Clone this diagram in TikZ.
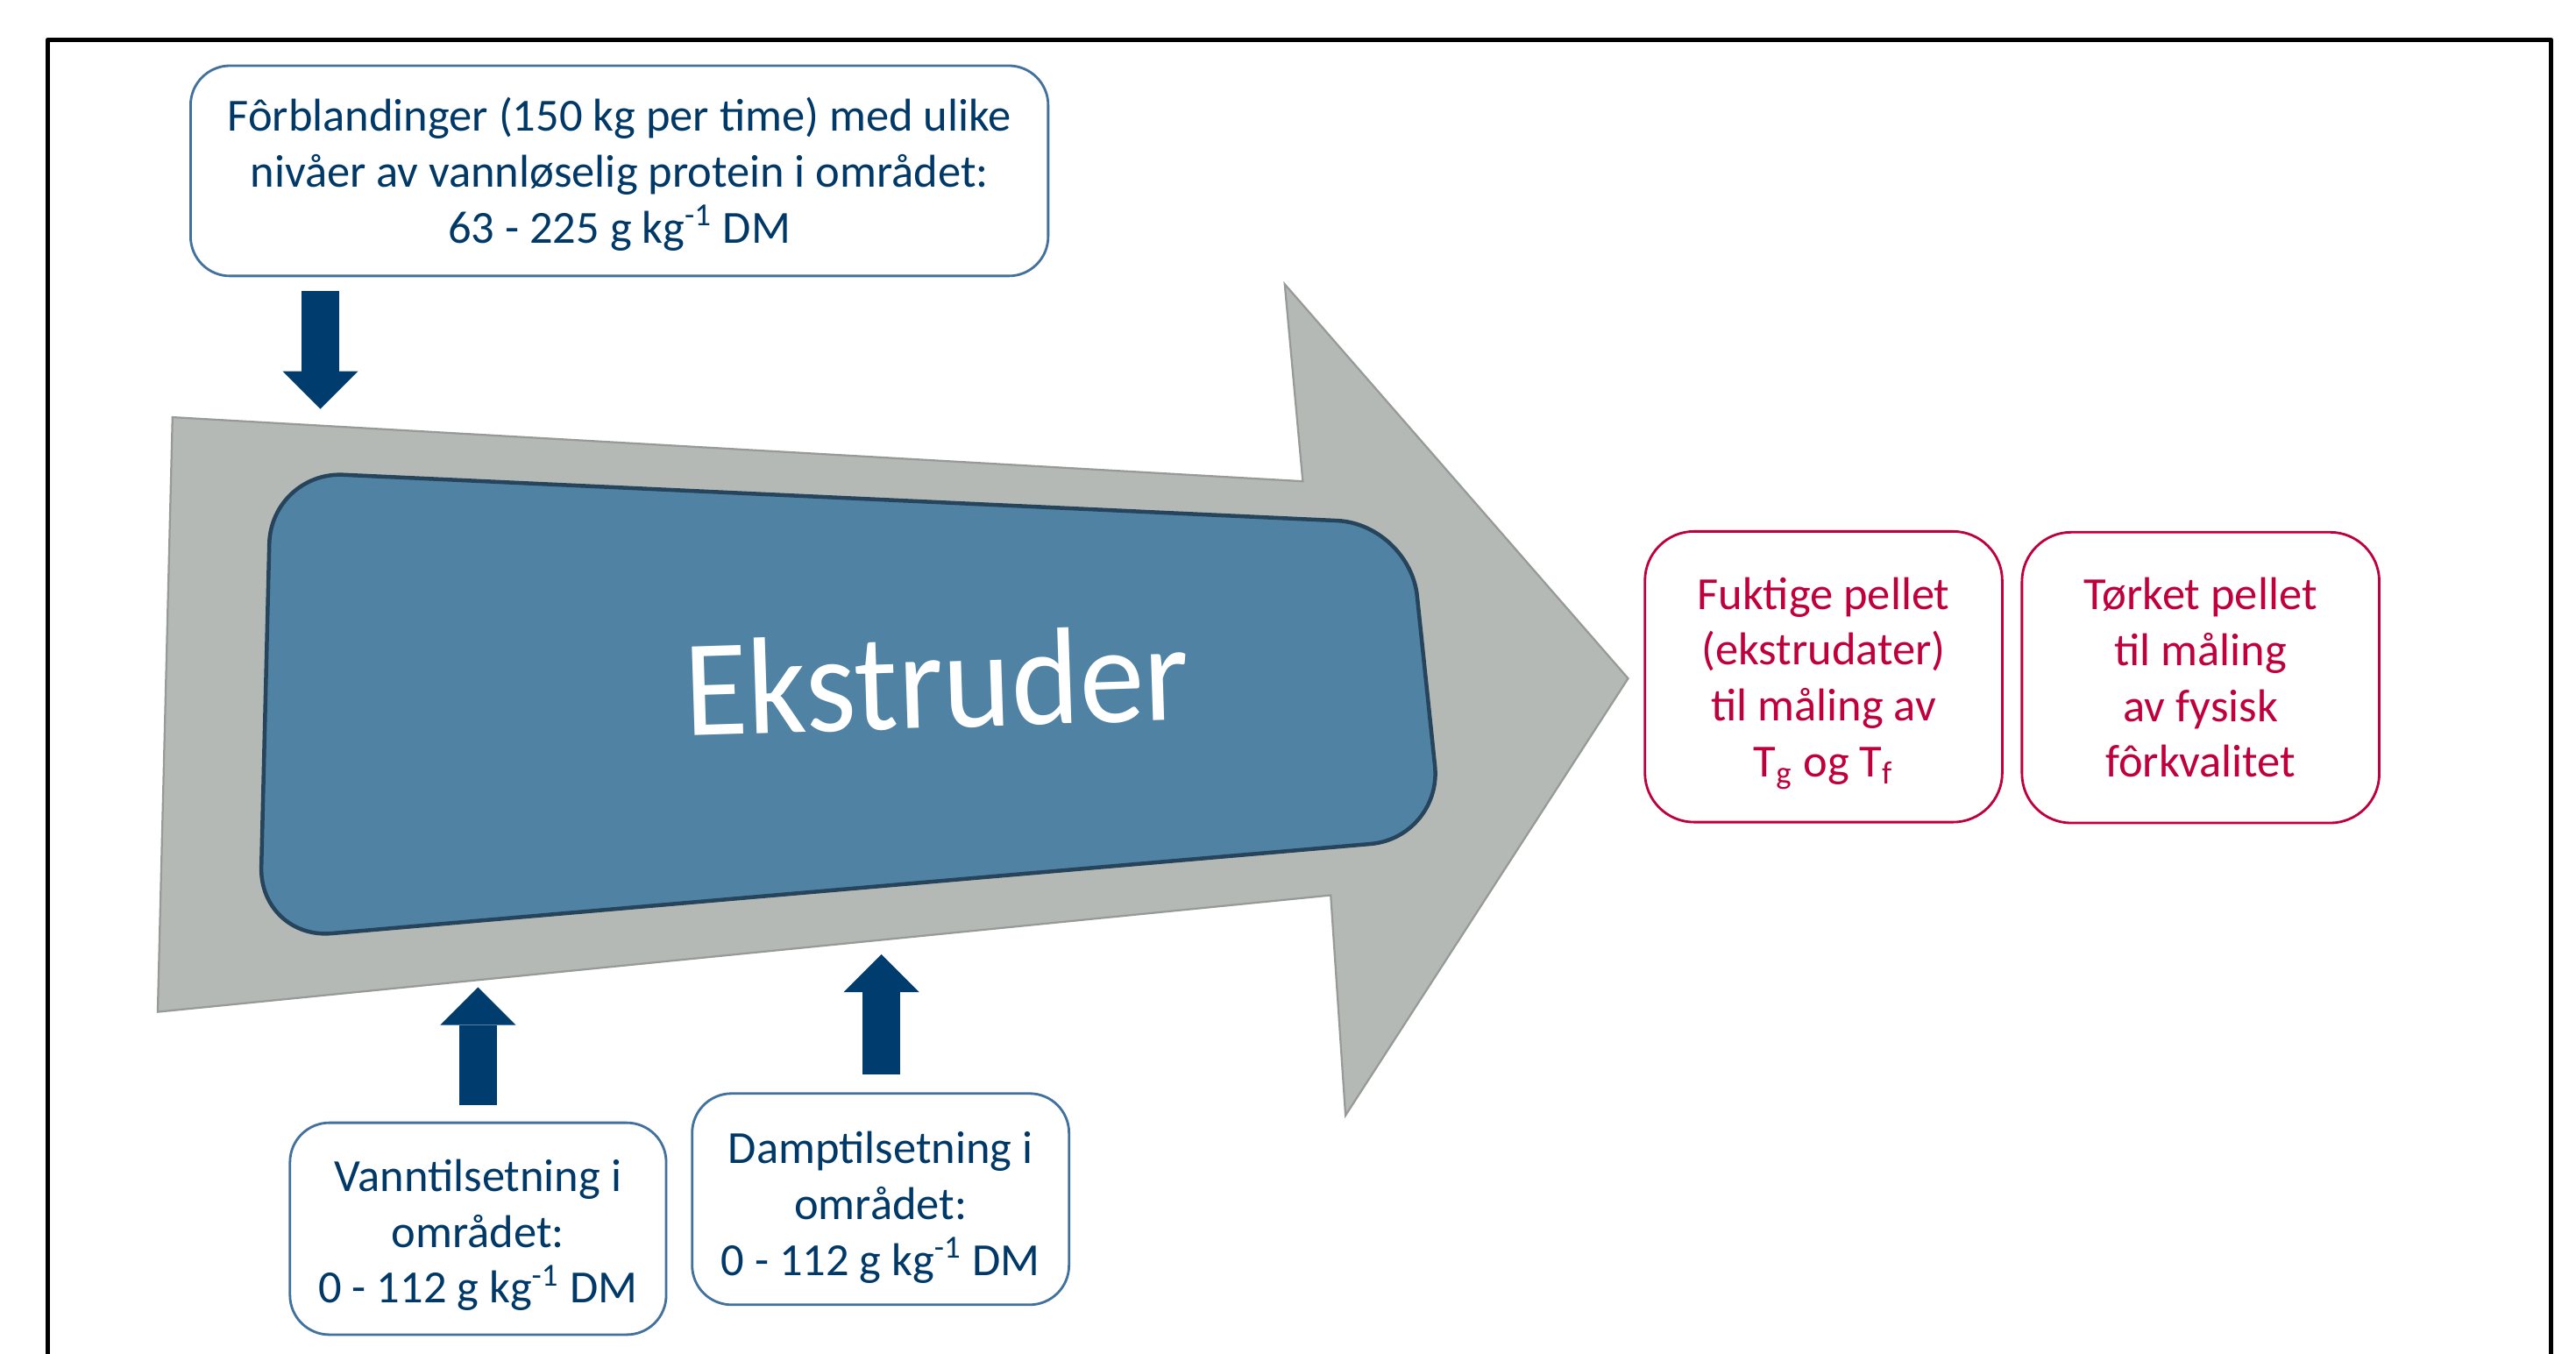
\documentclass[tikz,border=0pt]{standalone}
\usepackage{fontspec}
\setmainfont{Carlito}
\usetikzlibrary{arrows.meta}
\definecolor{arrowgray}{RGB}{181,185,182}
\definecolor{edgegray}{RGB}{150,155,152}
\definecolor{mainblue}{RGB}{80,130,164}
\definecolor{darkblue}{RGB}{38,68,92}
\definecolor{glowblue}{RGB}{112,182,232}
\definecolor{navy}{RGB}{0,60,110}
\definecolor{navytext}{RGB}{0,56,104}
\definecolor{boxblue}{RGB}{65,113,156}
\definecolor{crimson}{RGB}{192,0,60}
\begin{document}
\begin{tikzpicture}[x=0.5pt,y=-0.5pt,
  bluebox/.style={draw=boxblue, line width=0.75pt, rounded corners=12pt, fill=white, inner sep=0pt},
  bluetext/.style={text=navytext, align=center, font=\fontsize{14}{17}\selectfont, inner sep=0pt},
  redbox/.style={draw=crimson, line width=0.75pt, rounded corners=15pt, fill=white, inner sep=0pt,
    minimum width=108.75pt, minimum height=88.5pt},
  redtext/.style={text=crimson, align=center, font=\fontsize{14}{17}\selectfont, inner sep=0pt},
  blockarrow/.style={draw=navy, line width=11.3pt,
    -{Triangle[length=11.5pt,width=23pt,line width=0pt]}},
  exttext/.style={text=white, font=\fontsize{42}{42}\selectfont, anchor=base,
    inner sep=0pt, rotate=1.8, xscale=0.94}
]
\clip (0,0) rectangle (1568,824);
\fill[white] (0,0) rectangle (1568,824);

% frame
\draw[line width=1.5pt, line join=round] (29,840) -- (29,24.3) -- (1552.8,24.3) -- (1552.8,840);

% big gray arrow
\coordinate (g1) at (105,254);
\coordinate (g2) at (793,293);
\coordinate (g3) at (782,173);
\coordinate (g4) at (991,413);
\coordinate (g5) at (819,679);
\coordinate (g6) at (810,545);
\coordinate (g7) at (96,616);
\filldraw[fill=arrowgray, draw=edgegray, line width=0.6pt]
  (g1) -- (g2) -- (g3) -- (g4) -- (g5) -- (g6) -- (g7) -- cycle;

% blue extruder panel
\coordinate (b1) at (165,287);
\coordinate (b2) at (858,319);
\coordinate (b3) at (878,510);
\coordinate (b4) at (158,572);
\fill[glowblue, rounded corners=22pt, shift={(-3,5)}]
  (b1) -- (b2) -- (b3) -- (b4) -- cycle;
\filldraw[fill=mainblue, draw=darkblue, line width=1.2pt, rounded corners=22pt]
  (b1) -- (b2) -- (b3) -- (b4) -- cycle;
\node[exttext] (ext) at (571,443) {Ekstruder};

% boxes
\node[bluebox, minimum width=261pt, minimum height=64pt] (feed) at (377,104) {};
\node[bluetext] (feedt) at ([yshift=-1pt]feed.center)
  {Fôrblandinger (150 kg per time) med ulike\\nivåer av vannløselig protein i området:\\63 - 225 g kg\textsuperscript{-1} DM};
\node[bluebox, minimum width=114.5pt, minimum height=64.5pt] (water) at (291,748) {};
\node[bluetext] (watert) at ([yshift=-2pt]water.center)
  {Vanntilsetning i\\området:\\0 - 112 g kg\textsuperscript{-1} DM};
\node[bluebox, minimum width=114.7pt, minimum height=64.3pt] (steam) at (536,730) {};
\node[bluetext] (steamt) at ([yshift=-2.5pt]steam.center)
  {Damptilsetning i\\området:\\0 - 112 g kg\textsuperscript{-1} DM};
\node[redbox] (wet) at (1110,412) {};
\node[redtext] (wett) at ([yshift=-2pt]wet.center)
  {Fuktige pellet\\(ekstrudater)\\til måling av\\T\textsubscript{g} og T\textsubscript{f}};
\node[redbox] (dry) at (1339.5,412.5) {};
\node[redtext] (dryt) at ([yshift=0pt]dry.center)
  {Tørket pellet\\til måling\\av fysisk\\fôrkvalitet};

% block arrows
\coordinate (a1s) at (195,177);
\coordinate (a1e) at (195,249);
\coordinate (a2s) at (291,673);
\coordinate (a2e) at (291,601);
\coordinate (a3s) at (536.5,654);
\coordinate (a3e) at (536.5,581);
\draw[blockarrow] (a1s) -- (a1e);
\draw[blockarrow] (a2s) -- (a2e);
\draw[blockarrow] (a3s) -- (a3e);
\end{tikzpicture}
\end{document}
